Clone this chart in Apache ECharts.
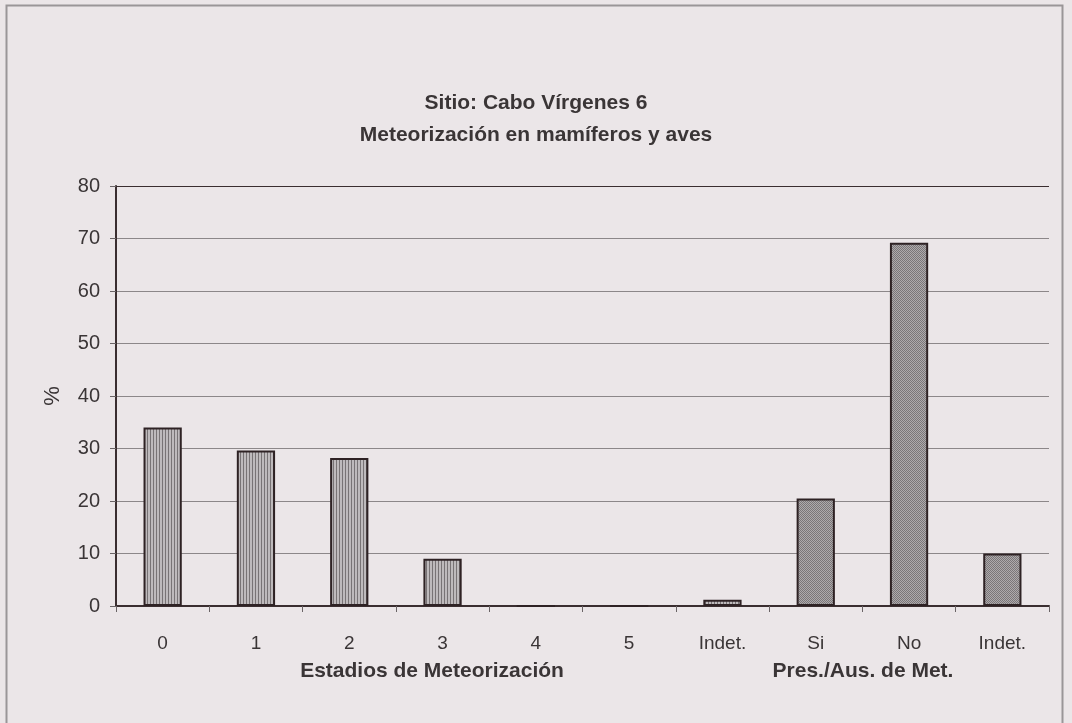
<!DOCTYPE html>
<html>
<head>
<meta charset="utf-8">
<script src="https://cdn.jsdelivr.net/npm/echarts@6/dist/echarts.min.js"></script>
<style>
html, body { margin: 0; padding: 0; background: #ebe6e8; }
#chart { width: 1072px; height: 723px; }
</style>
</head>
<body>
<div id="chart"></div>
<script>
var categories = ['0', '1', '2', '3', '4', '5', 'Indet.', 'Si', 'No', 'Indet.'];
var percentValues = [34, 29.6, 28.2, 9, 0, 0, 1.2, 20.5, 69.2, 10];
// first 7 bars are weathering stages, last 3 presence/absence
var stageCount = 7;
var yTicks = [0, 10, 20, 30, 40, 50, 60, 70, 80];

var fontFam = '"Liberation Sans Narrow", "Liberation Sans", Arial, sans-serif';
var textColor = '#3a3536';

// vertical hatch pattern
var hatch = document.createElement('canvas');
hatch.width = 3; hatch.height = 4;
var hc = hatch.getContext('2d');
hc.fillStyle = '#bebabc'; hc.fillRect(0, 0, 3, 4);
hc.fillStyle = '#787375'; hc.fillRect(0, 0, 1, 4);

// stipple pattern
var stip = document.createElement('canvas');
stip.width = 2; stip.height = 2;
var sc = stip.getContext('2d');
sc.fillStyle = '#aeaaac'; sc.fillRect(0, 0, 2, 2);
sc.fillStyle = '#7a7678'; sc.fillRect(0, 0, 1, 1); sc.fillRect(1, 1, 1, 1);

var barData = percentValues.map(function (v, i) {
    return {
        value: v,
        itemStyle: { color: { image: i < stageCount ? hatch : stip, repeat: 'repeat' } }
    };
});

var dom = document.getElementById('chart');
var myChart = echarts.init(dom, null, { renderer: 'canvas' });

var option = {
    backgroundColor: '#ebe6e8',
    animation: false,
    title: [
        {
            text: 'Sitio: Cabo Vírgenes 6\nMeteorización en mamíferos y aves',
            left: 'center',
            top: 82,
            textStyle: { fontFamily: fontFam, fontSize: 21, fontWeight: 'bold', color: textColor, lineHeight: 32, align: 'center' }
        },
        {
            text: 'Estadios de Meteorización',
            left: 427,
            top: 656,
            textAlign: 'center',
            textStyle: { fontFamily: fontFam, fontSize: 21, fontWeight: 'bold', color: textColor }
        },
        {
            text: 'Pres./Aus. de Met.',
            left: 858,
            top: 656,
            textAlign: 'center',
            textStyle: { fontFamily: fontFam, fontSize: 21, fontWeight: 'bold', color: textColor }
        }
    ],
    graphic: [
        {
            type: 'rect',
            shape: { x: 6.5, y: 5.5, width: 1056, height: 730 },
            style: { fill: 'none', stroke: '#9a9698', lineWidth: 2 },
            silent: true
        }
    ],
    grid: { left: 116, right: 23, top: 186, bottom: 117 },
    xAxis: {
        type: 'category',
        data: categories,
        axisLine: { lineStyle: { color: '#3a2e30', width: 2 } },
        axisTick: { show: true, length: 6, lineStyle: { color: '#6a6466' } },
        axisLabel: { fontFamily: fontFam, fontSize: 19, color: textColor, margin: 28 }
    },
    yAxis: {
        type: 'value',
        min: yTicks[0],
        max: yTicks[yTicks.length - 1],
        interval: 10,
        name: '%',
        nameLocation: 'middle',
        nameRotate: 90,
        nameGap: 52,
        nameTextStyle: { fontFamily: fontFam, fontSize: 22, color: textColor },
        axisLine: { show: true, lineStyle: { color: '#3a2e30', width: 2 } },
        axisTick: { show: true, length: 6, lineStyle: { color: '#6a6466' } },
        axisLabel: { fontFamily: fontFam, fontSize: 20, color: textColor, margin: 16 },
        splitLine: {
            lineStyle: {
                color: ['#8c8789', '#8c8789', '#8c8789', '#8c8789', '#8c8789', '#8c8789', '#8c8789', '#8c8789', '#3a2e30'],
                width: 1.2
            }
        }
    },
    series: [
        {
            type: 'bar',
            data: barData,
            barWidth: '41%',
            itemStyle: { borderColor: '#2e2224', borderWidth: 2 }
        }
    ]
};

myChart.setOption(option);
</script>
</body>
</html>
